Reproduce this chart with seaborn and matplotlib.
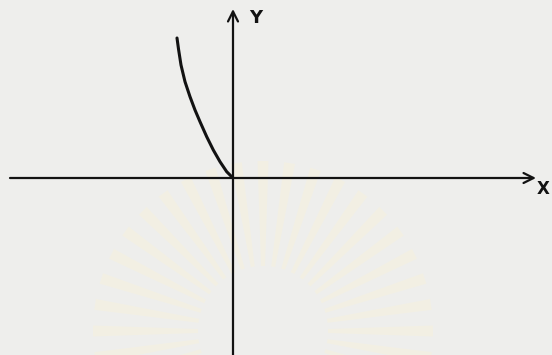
import numpy as np
import matplotlib
matplotlib.use("Agg")
import matplotlib.pyplot as plt
from matplotlib.patches import Polygon
import seaborn as sns

# Sketched curve in the second quadrant, ending at the origin
curve_x = [-5.60, -5.45, -5.20, -4.80, -4.30, -3.80, -3.30, -2.63, -1.97, -1.30, -0.63, 0.0]
curve_y = [14.00, 12.90, 11.30, 9.63, 8.13, 6.80, 5.63, 4.13, 2.80, 1.63, 0.63, 0.0]

axis_labels = ["X", "Y"]

sns.set_theme(style="white")
plt.rcParams["font.family"] = ["DejaVu Sans"]

paper = "#eeeeec"
ink = "#121212"

fig = plt.figure(figsize=(5.52, 3.55), dpi=100, facecolor=paper)
ax = fig.add_axes([0, 0, 1, 1])
ax.set_facecolor(paper)
ax.set_xlim(-23.3, 31.9)
ax.set_ylim(-17.7, 17.8)
ax.set_aspect("equal")
ax.axis("off")

# faint sunburst emblem printed on the paper
cx, cy = 3.0, -15.3
r_in, r_out = 6.5, 17.0
for ang in np.deg2rad(np.arange(0, 360, 9.0)):
    ux, uy = np.cos(ang), np.sin(ang)
    px, py = -uy, ux
    w_in, w_out = 0.2, 0.55
    pts = [
        (cx + r_in * ux + w_in * px, cy + r_in * uy + w_in * py),
        (cx + r_out * ux + w_out * px, cy + r_out * uy + w_out * py),
        (cx + r_out * ux - w_out * px, cy + r_out * uy - w_out * py),
        (cx + r_in * ux - w_in * px, cy + r_in * uy - w_in * py),
    ]
    ax.add_patch(Polygon(pts, closed=True, facecolor="#f3f0e3", edgecolor="none",
                         alpha=0.9, zorder=1))

# coordinate axes with open arrowheads
ax.annotate("", xy=(30.3, 0), xytext=(-22.3, 0),
            arrowprops=dict(arrowstyle="->,head_length=0.6,head_width=0.3",
                            color=ink, lw=1.6, shrinkA=0, shrinkB=0), zorder=3)
ax.annotate("", xy=(0, 16.9), xytext=(0, -17.9),
            arrowprops=dict(arrowstyle="->,head_length=0.6,head_width=0.3",
                            color=ink, lw=1.6, shrinkA=0, shrinkB=0), zorder=3)

ax.text(31.05, -1.1, axis_labels[0], fontsize=12, fontweight="bold", color=ink,
        ha="center", va="center")
ax.text(2.3, 16.0, axis_labels[1], fontsize=13, fontweight="bold", color=ink,
        ha="center", va="center")

sns.lineplot(x=curve_x, y=curve_y, sort=False, ax=ax, color=ink, linewidth=2.2,
             zorder=4)

fig.savefig("out.png", dpi=100, facecolor=paper)
